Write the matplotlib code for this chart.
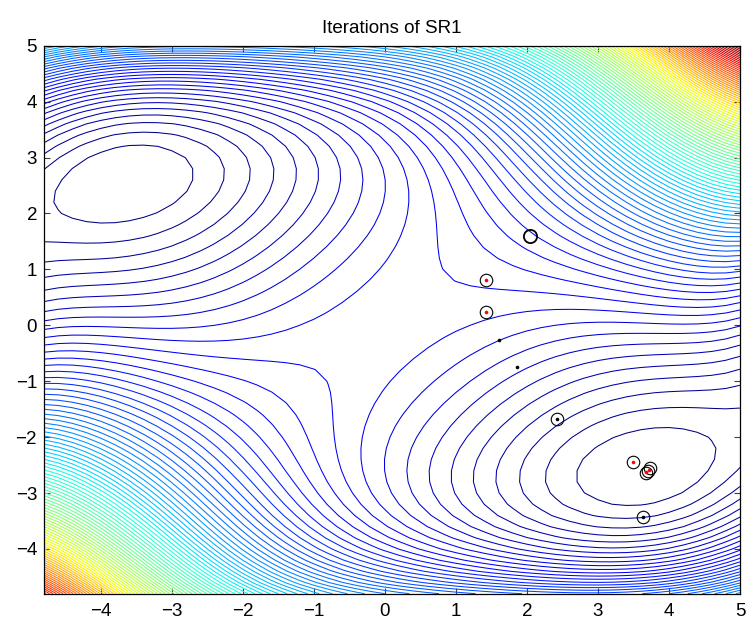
import numpy as np
import matplotlib
matplotlib.use("Agg")
import matplotlib.pyplot as plt

# objective: even polynomial, sum of c * x^i * y^j
powers = [(2, 0), (1, 1), (0, 2),
          (4, 0), (3, 1), (2, 2), (1, 3), (0, 4),
          (6, 0), (5, 1), (4, 2), (3, 3), (2, 4), (1, 5), (0, 6)]
coef = [-0.439856, 1.36484, -0.492515,
        0.0335381, 0.0282645, 0.0834915, -0.0138946, 0.0346027,
        -0.000797293, -0.00123129, 0.000170808, 0.00127698, -0.0010134, -0.000710099, 0.000528907]
n_levels = 96

# SR1 iterates: every trial point is circled, red = accepted step, black = rejected
start = (2.05, 1.60)
circle_x = [1.43, 1.43, 2.42, 3.50, 3.73, 3.67, 3.70, 3.64]
circle_y = [0.81, 0.24, -1.67, -2.44, -2.56, -2.65, -2.61, -3.42]
red_x = [1.43, 1.43, 3.50, 3.72, 3.68]
red_y = [0.81, 0.24, -2.44, -2.58, -2.63]
black_x = [1.61, 1.86, 2.42, 3.64]
black_y = [-0.27, -0.75, -1.67, -3.42]


def objective(x, y):
    z = np.zeros_like(x)
    for c, (i, j) in zip(coef, powers):
        z += c * x**i * y**j
    return z


g = np.arange(-4.8, 5.0001, 0.2)
X, Y = np.meshgrid(g, g)
Z = objective(X, Y)
levels = np.linspace(Z.min(), Z.max(), n_levels + 2)[1:-1]

plt.rcParams['font.family'] = ['Liberation Sans', 'DejaVu Sans']
fig = plt.figure(figsize=(7.47, 6.21), dpi=100)
ax = fig.add_axes([0.0589, 0.044, 0.9317, 0.8824])

ax.contour(X, Y, Z, levels=levels, cmap='jet', linewidths=0.75)

ax.plot(*start, 'o', mfc='none', mec='k', ms=9.5, mew=1.3)
ax.plot(circle_x, circle_y, 'o', mfc='none', mec='k', ms=9, mew=0.8, ls='none')
ax.plot(red_x, red_y, 'o', color='r', ms=2.6, mew=0, ls='none')
ax.plot(black_x, black_y, 'o', color='k', ms=2.6, mew=0, ls='none')

ax.set_xlim(-4.8, 5)
ax.set_ylim(-4.8, 5)
ax.set_xticks(range(-4, 6))
ax.set_yticks(range(-4, 6))
ax.tick_params(direction='in', length=4, width=0.8, color='#404040',
               top=True, right=True, labelsize=13.5, pad=7)
ax.tick_params(axis='y', pad=5)
for s in ax.spines.values():
    s.set_linewidth(0.9)
ax.set_title("Iterations of SR1", fontsize=13.5, pad=9)

fig.savefig("out.png")
